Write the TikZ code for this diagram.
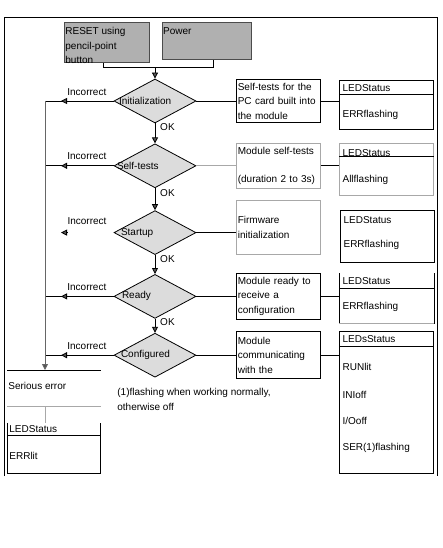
\documentclass[tikz,border=0pt]{standalone}
\usepackage{fontspec}
\setmainfont{Liberation Sans}
\usetikzlibrary{positioning,shapes.geometric,arrows.meta,decorations.markings}

\definecolor{srcgray}{HTML}{B0B0B0}
\definecolor{decgray}{HTML}{DCDCDC}
\definecolor{tipgray}{HTML}{555555}
\definecolor{linegray}{HTML}{A8A8A8}

\begin{document}
\begin{tikzpicture}[%
	    x=1pt, y=-1pt,
	    line width=0.8pt,
	    font=\fontsize{10}{14.5}\selectfont,
	    >={Triangle[width=6pt,length=6pt,fill=tipgray]},
	    decision/.style={diamond, draw, fill=decgray, minimum width=82pt, minimum height=44pt, inner sep=0pt},
	    srcbox/.style={rectangle, draw=black!70, fill=srcgray, anchor=north west, inner sep=0pt},
	    textbox/.style={rectangle, draw, inner sep=1pt, text width=82pt, align=left},
	    ledbox/.style={rectangle, draw, minimum width=94pt, anchor=north west, inner sep=0pt},
	    txt/.style={inner sep=1pt, anchor=west, align=left},
	    wrong/.style={postaction={decorate},
	      decoration={markings, mark=at position -16pt with {\arrow{>}}}}
	  ]

  \path[use as bounding box, fill=white] (0,0) rectangle (442,548);

  % frame
  \draw (4,476) -- (4,17) -- (437,17) -- (437,476);

  % start conditions
	  \node[srcbox, minimum width=85pt, minimum height=40pt] (reset) at (64,22) {};
	  \node[srcbox, minimum width=89pt, minimum height=37pt] (power) at ([xshift=12pt]reset.north east) {};
	  \node[txt, anchor=north west] at ([yshift=-4pt]reset.north west) {RESET using\\pencil-point\\button};
	  \node[txt, anchor=north west] at ([yshift=-4pt]power.north west) {Power};

  % states
	  \node[decision] (init) at (155,101) {};
	  \node[decision] (self) [below=20pt of init] {};
	  \node[decision] (startup) [below=22pt of self] {};
	  \node[decision] (ready) [below=19pt of startup] {};
	  \node[decision] (conf) [below=14pt of ready] {};

	  \node[txt, right=4pt of init.west] {Initialization};
	  \node[txt, right=2pt of self.west] {Self-tests};
	  \node[txt, right=6pt of startup.west] {Startup};
	  \node[txt, right=7pt of ready.west] {Ready};
	  \node[txt, right=6pt of conf.west] {Configured};

  % what the module does
	  \node[textbox, minimum height=43pt] (dinit) [right=40pt of init] {Self-tests for the\\PC card built into\\the module};
	  \node[textbox, minimum height=45pt, draw=linegray] (dself) [right=40pt of self] {Module self-tests\\[14pt](duration 2 to 3s)};
	  \node[textbox, minimum height=54pt, draw=linegray] (dstart) [right=40pt of startup, yshift=5pt] {Firmware\\initialization};
	  \node[textbox, minimum height=46pt] (dready) [right=40pt of ready] {Module ready to\\receive a\\configuration};
	  \node[textbox, minimum height=47pt] (dconf) [right=40pt of conf] {Module\\communicating\\with the};

  % LED boxes
	  \node[ledbox, minimum height=49pt] (linit) at ([xshift=18pt,yshift=-1pt]dinit.north east) {};
	  \node[ledbox, minimum height=52pt, draw=linegray] (lself) at ([xshift=18pt]dself.north east) {};
	  \node[ledbox, minimum height=52pt] (lstart) at ([xshift=19pt,yshift=-10pt]dstart.north east) {};
	  \node[ledbox, minimum height=50pt, draw=none] (lready) at ([xshift=18pt]dready.north east) {};
	  \node[ledbox, minimum height=142pt] (lconf) at ([xshift=18pt]dconf.north east) {};

	  \node[txt] at ([xshift=2pt,yshift=-8pt]linit.north west) {LEDStatus};
	  \node[txt] at ([xshift=2pt,yshift=-35pt]linit.north west) {ERRflashing};
	  \node[txt] at ([xshift=2pt,yshift=-10pt]lself.north west) {LEDStatus};
	  \node[txt] at ([xshift=2pt,yshift=-37pt]lself.north west) {Allflashing};
	  \node[txt] at ([xshift=2pt,yshift=-10pt]lstart.north west) {LEDStatus};
	  \node[txt] at ([xshift=2pt,yshift=-35pt]lstart.north west) {ERRflashing};
	  \node[txt] at ([xshift=2pt,yshift=-8pt]lready.north west) {LEDStatus};
	  \node[txt] at ([xshift=2pt,yshift=-34pt]lready.north west) {ERRflashing};
	  \node[txt] at ([xshift=2pt,yshift=-8pt]lconf.north west) {LEDsStatus};
	  \node[txt] at ([xshift=2pt,yshift=-36pt]lconf.north west) {RUNlit};
	  \node[txt] at ([xshift=2pt,yshift=-64pt]lconf.north west) {INIoff};
	  \node[txt] at ([xshift=2pt,yshift=-90pt]lconf.north west) {I/Ooff};
	  \node[txt] at ([xshift=2pt,yshift=-117pt]lconf.north west) {SER(1)flashing};

	  \draw ([yshift=-14pt]linit.north west) -- ([yshift=-14pt]linit.north east);
	  \draw ([yshift=-14pt]lself.north west) -- ([yshift=-14pt]lself.north east);
	  \draw ([yshift=-15pt]lready.north west) -- ([yshift=-15pt]lready.north east);
	  \draw ([yshift=-15pt]lconf.north west) -- ([yshift=-15pt]lconf.north east);
	  \draw (lready.north west) -- (lready.south west);
	  \draw (lready.north east) -- (lready.south east);
	  \draw[linegray] (lready.south west) -- (lready.south east);

  % error branch
	  \coordinate (bus) at (45,0);
	  \node[rectangle, minimum width=93pt, minimum height=36pt, anchor=north west, inner sep=0pt] (serr) at (7,370) {};
	  \node[ledbox, minimum width=93pt, minimum height=50pt, draw=none] (lerr) at ([yshift=-16pt]serr.south west) {};
	  \node[txt] at ([yshift=2pt]serr.west) {Serious error};
	  \node[txt] at ([xshift=1pt,yshift=-6pt]lerr.north west) {LEDStatus};
	  \node[txt] at ([xshift=1pt,yshift=-33pt]lerr.north west) {ERRlit};
	  \draw (serr.north west) -- (serr.north east);
	  \draw[linegray] (serr.south west) -- (serr.south east);
	  \draw ([yshift=-13pt]lerr.north west) -- ([yshift=-13pt]lerr.north east);
	  \draw (lerr.north west) -- (lerr.south west) -- (lerr.south east) -- (lerr.north east);

	  \node[txt, anchor=north west] (note) at (116,387) {(1)flashing when working normally,\\otherwise off};

  % flow
	  \coordinate (merge) at ([yshift=11pt]init.north);
	  \draw ([xshift=-3.5pt]reset.south) |- (merge) -| ([xshift=6.5pt]power.south);
	  \draw[->] (merge) -- (init.north);

	  \path[->]
	      (init)     edge node[pos=0.2, right=1.5pt] {OK} (self)
	      (self)     edge node[pos=0.2, right=1.5pt] {OK} (startup)
	      (startup)  edge node[pos=0.2, right=1.5pt] {OK} (ready)
	      (ready)    edge node[pos=0.2, right=1.5pt] {OK} (conf);

	  \coordinate (b3) at (bus |- startup);
	  \draw[wrong] (init.west) -- (bus |- init) node[pos=0.39, above=2pt] {Incorrect};
	  \draw[wrong] (self.west) -- (bus |- self) node[pos=0.39, above=2pt] {Incorrect};
	  \draw[->] ([xshift=22pt]b3) -- ([xshift=16pt]b3);
	  \node at ([xshift=42pt,yshift=11pt]b3) {Incorrect};
	  \draw[wrong] (ready.west) -- (bus |- ready) node[pos=0.39, above=2pt] {Incorrect};
	  \draw[wrong] (conf.west) -- (bus |- conf) node[pos=0.39, above=2pt] {Incorrect};
	  \draw[->, draw=black!60] (bus |- init) -- (serr.north -| bus);
	  \draw[linegray] (serr.south -| bus) -- (lerr.north -| bus);

	  \draw (init.east) -- (init.east -| dinit.west);
	  \draw[linegray] (self.east) -- (self.east -| dself.west);
	  \draw (startup.east) -- (startup.east -| dstart.west);
	  \draw (ready.east) -- (ready.east -| dready.west);
	  \draw (conf.east) -- (conf.east -| dconf.west);
	  \draw (dinit.east) -- (dinit.east -| linit.west);
	  \draw (dself.east) -- (dself.east -| lself.west);
	  \draw (dready.east) -- (dready.east -| lready.west);
	  \draw (dconf.east) -- (dconf.east -| lconf.west);

\end{tikzpicture}
\end{document}
